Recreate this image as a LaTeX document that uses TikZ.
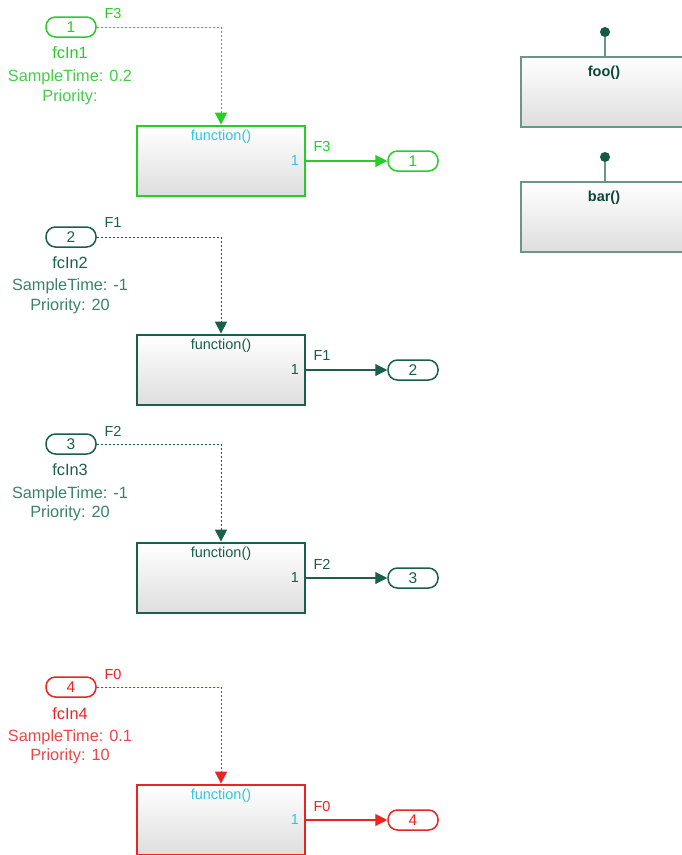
\documentclass[tikz,border=0pt]{standalone}
\usepackage{fontspec}
\setmainfont{Liberation Sans}
\usetikzlibrary{arrows.meta}
\definecolor{gG}{RGB}{40,205,40}
\definecolor{gT}{RGB}{70,205,70}
\definecolor{tB}{RGB}{25,95,75}
\definecolor{tT}{RGB}{60,130,105}
\definecolor{rB}{RGB}{235,35,35}
\definecolor{rT}{RGB}{238,70,70}
\definecolor{cy}{RGB}{45,200,225}
\definecolor{fb}{RGB}{105,150,135}
\definecolor{fd}{RGB}{20,90,70}
\begin{document}
\begin{tikzpicture}[x=1pt,y=-1pt,
  pill/.style={draw, rounded corners=9.5pt, minimum width=50pt, minimum height=20pt, line width=1.5pt, fill=white, inner sep=0pt, font=\fontsize{15.5}{16}\selectfont},
  fbox/.style={draw, line width=2.7pt, minimum width=168pt, minimum height=70pt, top color=white, bottom color=black!13, inner sep=0pt},
  rbox/.style={draw=fb, line width=1.4pt, minimum width=180pt, minimum height=70pt, top color=white, bottom color=black!13, inner sep=0pt},
  lbl/.style={font=\fontsize{16.3}{19.5}\selectfont, align=center, inner sep=0pt},
  sml/.style={font=\fontsize{14.5}{15}\selectfont, inner sep=0pt},
  dashline/.style={line width=0.9pt, dash pattern=on 2pt off 2pt},
  sigline/.style={line width=1.1pt},
  tip/.tip={Triangle[length=12pt,width=12pt]},
  dotnode/.style={circle, fill=fd, inner sep=0pt, minimum size=10pt}]
\useasboundingbox (0,0) rectangle (682,855);
\clip (0,0) rectangle (682,855);
\fill[white] (0,0) rectangle (682,855);

% ---------- Section 1 (green) ----------
\node[pill, draw=gG, text=gG] (in1) at (71,27) {1};
\node[lbl, text=gG] (n1) at (70,53) {fcIn1};
\node[lbl, text=gT] (s1) at (70,87.5) {SampleTime: 0.2\\Priority:};
\node[fbox, draw=gG] (b1) at (221,161) {};
\node[sml, text=cy] (f1) at (221,137) {function()};
\node[sml, text=cy] (p1) at (295,161) {1};
\node[pill, draw=gG, text=gG] (out1) at (413,161) {1};
\node[sml, text=gG] (l1a) at (113,14) {F3};
\node[sml, text=gG] (l1b) at (322,147) {F3};
\draw[dashline, gG, -tip] (in1.east) -| (b1.north);
\draw[sigline, gG, -tip] (b1.east) -- (out1.west);

% ---------- Section 2 (teal) ----------
\node[pill, draw=tB, text=tB] (in2) at (71,237) {2};
\node[lbl, text=tB] (n2) at (70,263) {fcIn2};
\node[lbl, text=tT] (s2) at (70,296.5) {SampleTime: -1\\Priority: 20};
\node[fbox, draw=tB] (b2) at (221,370) {};
\node[sml, text=tB] (f2) at (221,346) {function()};
\node[sml, text=tB] (p2) at (295,370) {1};
\node[pill, draw=tB, text=tB] (out2) at (413,370) {2};
\node[sml, text=tB] (l2a) at (113,223) {F1};
\node[sml, text=tB] (l2b) at (322,356) {F1};
\draw[dashline, tB, -tip] (in2.east) -| (b2.north);
\draw[sigline, tB, -tip] (b2.east) -- (out2.west);

% ---------- Section 3 (teal) ----------
\node[pill, draw=tB, text=tB] (in3) at (71,444) {3};
\node[lbl, text=tB] (n3) at (70,470) {fcIn3};
\node[lbl, text=tT] (s3) at (70,504) {SampleTime: -1\\Priority: 20};
\node[fbox, draw=tB] (b3) at (221,578) {};
\node[sml, text=tB] (f3) at (221,554) {function()};
\node[sml, text=tB] (p3) at (295,578) {1};
\node[pill, draw=tB, text=tB] (out3) at (413,578) {3};
\node[sml, text=tB] (l3a) at (113,431) {F2};
\node[sml, text=tB] (l3b) at (322,564) {F2};
\draw[dashline, tB, -tip] (in3.east) -| (b3.north);
\draw[sigline, tB, -tip] (b3.east) -- (out3.west);

% ---------- Section 4 (red) ----------
\node[pill, draw=rB, text=rB] (in4) at (71,687) {4};
\node[lbl, text=rB] (n4) at (70,714) {fcIn4};
\node[lbl, text=rT] (s4) at (70,747) {SampleTime: 0.1\\Priority: 10};
\node[fbox, draw=rB] (b4) at (221,820) {};
\node[sml, text=cy] (f4) at (221,796) {function()};
\node[sml, text=cy] (p4) at (295,820) {1};
\node[pill, draw=rB, text=rB] (out4) at (413,820) {4};
\node[sml, text=rB] (l4a) at (113,674) {F0};
\node[sml, text=rB] (l4b) at (322,806) {F0};
\draw[dashline, rB, -tip] (in4.east) -| (b4.north);
\draw[sigline, rB, -tip] (b4.east) -- (out4.west);

% ---------- Right side ----------
\node[rbox] (foo) at (611,92) {};
\node[sml, font=\fontsize{14.5}{15}\selectfont\bfseries, text=fd!80!black] (foot) at (604,73) {foo()};
\node[dotnode] (d1) at (605,32) {};
\draw[fb, line width=1.2pt] (d1) -- (d1 |- foo.north);

\node[rbox] (bar) at (611,217) {};
\node[sml, font=\fontsize{14.5}{15}\selectfont\bfseries, text=fd!80!black] (bart) at (604,198) {bar()};
\node[dotnode] (d2) at (605,157) {};
\draw[fb, line width=1.2pt] (d2) -- (d2 |- bar.north);
\end{tikzpicture}
\end{document}
